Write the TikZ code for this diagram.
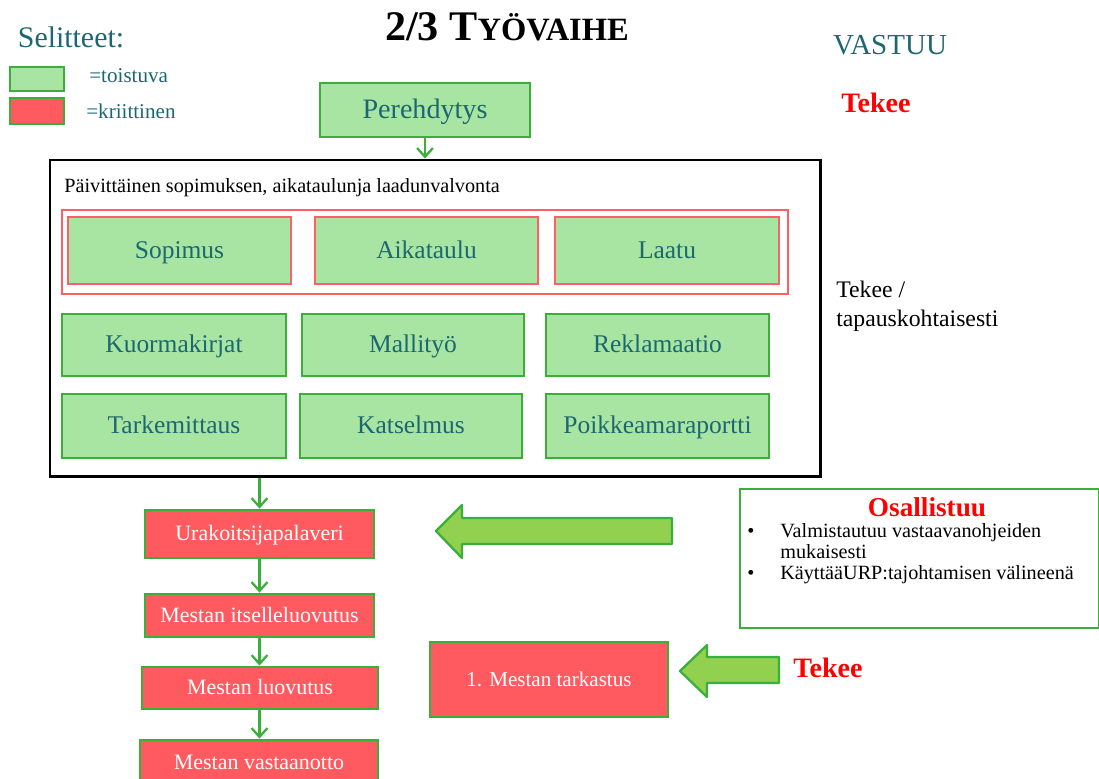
\documentclass[tikz,border=0pt]{standalone}
\usepackage{fontspec}
\setmainfont{Liberation Serif}
\usetikzlibrary{arrows.meta}

\definecolor{vihrea}{RGB}{58,176,58}
\definecolor{vaalea}{RGB}{168,228,162}
\definecolor{punainen}{RGB}{255,90,96}
\definecolor{reuna}{RGB}{255,96,104}
\definecolor{petrooli}{RGB}{28,104,112}
\definecolor{nuoli}{RGB}{146,208,80}
\definecolor{kirkas}{RGB}{255,0,0}

\newcommand{\pix}{0.02cm}

\tikzset{
  toistuva/.style={draw=vihrea, fill=vaalea, line width=1.6pt, inner sep=0pt,
    text height=10pt, text depth=1pt,
    text=petrooli, font=\fontsize{14.5}{16}\selectfont},
  valvottu/.style={toistuva, draw=reuna, line width=1.4pt},
  kriittinen/.style={draw=vihrea, fill=punainen, line width=1.6pt, inner sep=0pt,
    text height=8.5pt, text depth=1pt,
    text=white, font=\fontsize{12.5}{14}\selectfont},
  kulku/.style={draw=vihrea, line width=1.3pt, -{Straight Barb[length=5pt,width=9pt]}},
  blokki/.style={draw=vihrea, fill=nuoli, line width=1.3pt, line join=round},
  vastuu/.style={text=kirkas, font=\fontsize{16}{18}\selectfont\bfseries}
}

\begin{document}
\begin{tikzpicture}[x=\pix, y=-\pix]
\useasboundingbox (0,0) rectangle (1099,778);

% selitteet
\node[text=petrooli, font=\fontsize{17}{19}\selectfont] (selitteet) at (71,37) {Selitteet:};
\node[toistuva, minimum width=54*\pix, minimum height=24*\pix] (selvihrea) at (37,79) {};
\node[kriittinen, minimum width=54*\pix, minimum height=26*\pix] (selpunainen) at (37,111) {};
\node[anchor=west, inner sep=0pt, text=petrooli, font=\fontsize{12}{14}\selectfont] (seltoistuva) at (89,76) {=toistuva};
\node[anchor=west, inner sep=0pt, text=petrooli, font=\fontsize{12}{14}\selectfont] (selkriittinen) at (86,111) {=kriittinen};

% otsikko
\node[font=\bfseries] (otsikko) at (507,27) {\fontsize{24}{26}\selectfont 2/3 T\fontsize{18.5}{20}\selectfont YÖVAIHE};
\node[text=petrooli, font=\fontsize{16.5}{18}\selectfont] (vastuu) at (890,45) {VASTUU};
\node[vastuu] (tekee) at (876,103) {Tekee};

\node[toistuva, font=\fontsize{16}{18}\selectfont, text height=11pt, minimum width=210*\pix, minimum height=54*\pix] (pere) at (425,110) {Perehdytys};

% valvonta
\node[draw, line width=1.7pt, minimum width=770*\pix, minimum height=316*\pix] (valvonta) at (435,318) {};
\node[anchor=west, inner sep=0pt, font=\fontsize{11.5}{13}\selectfont] (valvontateksti) at (64,188) {Päivittäinen sopimuksen, aikataulunja laadunvalvonta};
\node[draw=reuna, line width=1.2pt, minimum width=726*\pix, minimum height=84*\pix] (kriittiset) at (425,252) {};

\node[valvottu, minimum width=223*\pix, minimum height=67*\pix] (sopimus) at (179.5,250.5) {Sopimus};
\node[valvottu, minimum width=223*\pix, minimum height=67*\pix] (aikataulu) at (426.5,250.5) {Aikataulu};
\node[valvottu, minimum width=224*\pix, minimum height=67*\pix] (laatu) at (667,250.5) {Laatu};

\node[toistuva, minimum width=224*\pix, minimum height=62*\pix] (kuorma) at (174,345) {Kuormakirjat};
\node[toistuva, minimum width=222*\pix, minimum height=62*\pix] (malli) at (413,345) {Mallityö};
\node[toistuva, minimum width=223*\pix, minimum height=62*\pix] (reklamaatio) at (657.5,345) {Reklamaatio};

\node[toistuva, minimum width=224*\pix, minimum height=64*\pix] (tarkemittaus) at (174,426) {Tarkemittaus};
\node[toistuva, minimum width=222*\pix, minimum height=64*\pix] (katselmus) at (411,426) {Katselmus};
\node[toistuva, minimum width=223*\pix, minimum height=64*\pix] (poikkeama) at (657.5,426) {Poikkeamaraportti};

\node[anchor=west, inner sep=0pt, align=left, font=\fontsize{13.5}{16.5}\selectfont] (tapaus) at (836,306) {Tekee /\\tapauskohtaisesti};

% kulku alas
\node[kriittinen, minimum width=229*\pix, minimum height=48*\pix] (ura) at (259.5,534) {Urakoitsijapalaveri};
\node[kriittinen, minimum width=229*\pix, minimum height=43*\pix] (itselle) at (259.5,615.5) {Mestan itselleluovutus};
\node[kriittinen, minimum width=236*\pix, minimum height=42*\pix] (luovutus) at (260,688) {Mestan luovutus};
\node[kriittinen, minimum width=238*\pix, minimum height=46*\pix] (vastaanotto) at (259,763) {Mestan vastaanotto};
\node[kriittinen, font=\fontsize{12}{14}\selectfont, minimum width=238*\pix, minimum height=75*\pix] (tarkastus) at (549,679.5) {1. Mestan tarkastus};

\draw[kulku] (pere.south) -- (pere.south |- valvonta.north);
\draw[kulku] (ura.north |- valvonta.south) -- (ura.north);
\draw[kulku] (ura.south) -- (ura.south |- itselle.north);
\draw[kulku] (itselle.south) -- (itselle.south |- luovutus.north);
\draw[kulku] (luovutus.south -| itselle.south) -- (itselle.south |- vastaanotto.north);

% osallistuu
\node[draw=vihrea, line width=1.6pt, minimum width=359*\pix, minimum height=139*\pix] (osallistuu) at (919.5,558.5) {};
\node[vastuu, font=\fontsize{15.5}{17}\selectfont\bfseries] (osaotsikko) at (927,507) {Osallistuu};
\node[anchor=north west, inner sep=0pt, font=\fontsize{11.5}{12}\selectfont] (osalista) at (747,522)
  {\begin{tabular}{@{}p{0.66cm}@{}l@{}}
   • & Valmistautuu vastaavanohjeiden\\
     & mukaisesti\\
   • & KäyttääURP:tajohtamisen välineenä
   \end{tabular}};

% nuolet
\draw[blokki] (436,531) -- (462,505) -- (462,518) -- (672,518) -- (672,544) -- (462,544) -- (462,558) -- cycle;
\draw[blokki] (680,671) -- (707,645) -- (707,657) -- (779,657) -- (779,683) -- (707,683) -- (707,697) -- cycle;
\node[vastuu] (tekee2) at (828,668) {Tekee};

\end{tikzpicture}
\end{document}
